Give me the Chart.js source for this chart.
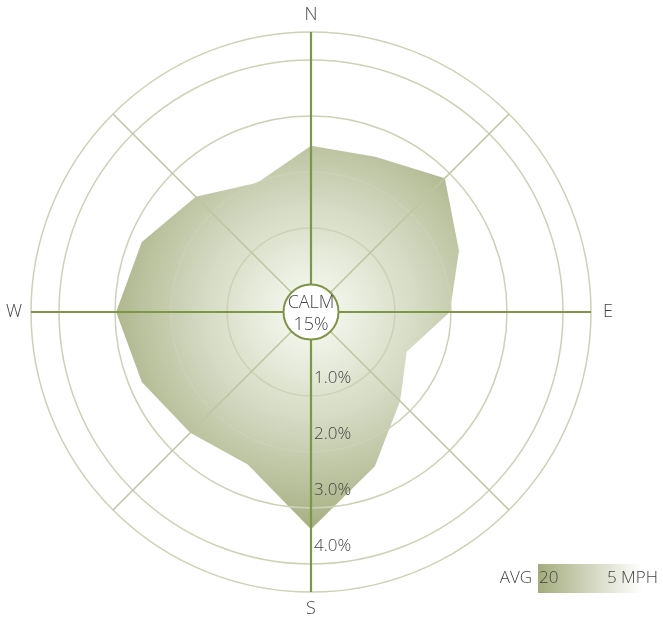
<!DOCTYPE html>
<html>
<head>
<meta charset="utf-8">
<title>Wind rose</title>
<script src="https://cdn.jsdelivr.net/npm/chart.js@4/dist/chart.umd.min.js"></script>
<style>
  html, body { margin: 0; padding: 0; background: #ffffff; }
  #wrap { width: 663px; height: 619px; position: relative; }
</style>
</head>
<body>
<div id="wrap"><canvas id="rose"></canvas></div>
<script>
// Sixteen compass directions, clockwise from north
const directions = ['N', 'NNE', 'NE', 'ENE', 'E', 'ESE', 'SE', 'SSE',
                    'S', 'SSW', 'SW', 'WSW', 'W', 'WNW', 'NW', 'NNW'];
// Share of observations from each direction (%)
const frequencies = [2.47, 2.50, 2.88, 2.36, 1.98, 1.35, 1.75, 2.48,
                     3.38, 2.45, 2.55, 2.77, 2.98, 2.77, 2.41, 2.00];
// Rings and their labels
const ringValues = [1, 2, 3, 4];
const ringLabels = ['1.0%', '2.0%', '3.0%', '4.0%'];
const outerRing = 4.5;
const innerOffset = -0.5;   // leaves room for the calm disc in the middle
// Calm share shown in the centre
const calmLabel = 'CALM';
const calmValue = '15%';
// Speed key
const keyPrefix = 'AVG';
const keyHigh = '20';
const keyLow = '5 MPH';

const FONT = "'Open Sans', 'DejaVu Sans', sans-serif";
const TEXT = '#454545';
const AXIS = '#7f9548';
const DIAG = '#bfc5a2';
const RING = '#cdd1b7';
const OLIVE = '#a3ac7d';

function roseFill(context) {
  const chart = context.chart;
  const s = chart.scales.r;
  if (!chart.chartArea || !s) return OLIVE;
  const r = s.getDistanceFromCenterForValue(3.5);
  const g = chart.ctx.createRadialGradient(s.xCenter, s.yCenter, 0, s.xCenter, s.yCenter, r);
  g.addColorStop(0, '#f8faf4');
  g.addColorStop(0.15, '#eef2e6');
  g.addColorStop(0.5, '#d3d9c1');
  g.addColorStop(1, OLIVE);
  return g;
}

const overlay = {
  id: 'roseOverlay',
  afterDraw(chart) {
    const ctx = chart.ctx;
    const s = chart.scales.r;
    const cx = s.xCenter, cy = s.yCenter;
    ctx.save();

    // compass letters
    ctx.fillStyle = TEXT;
    ctx.font = '300 18px ' + FONT;
    ctx.textAlign = 'center';
    ctx.textBaseline = 'middle';
    directions.forEach((d, i) => {
      if (d.length !== 1) return;
      const p = s.getPointPosition(i, s.drawingArea + 17);
      ctx.fillText(d, p.x, p.y);
    });

    // calm disc
    const calmR = s.getDistanceFromCenterForValue(0) - 0.5;
    ctx.beginPath();
    ctx.arc(cx, cy, calmR, 0, Math.PI * 2);
    ctx.fillStyle = '#ffffff';
    ctx.fill();
    ctx.lineWidth = 2;
    ctx.strokeStyle = AXIS;
    ctx.stroke();
    ctx.fillStyle = TEXT;
    ctx.font = '300 18px ' + FONT;
    ctx.fillText(calmLabel, cx, cy - 9);
    ctx.fillText(calmValue, cx, cy + 13);

    // ring labels along the south axis
    ctx.font = '300 17px ' + FONT;
    ctx.textAlign = 'left';
    ringValues.forEach((v, i) => {
      const d = s.getDistanceFromCenterForValue(v);
      ctx.fillText(ringLabels[i], cx + 3, cy + d - 18);
    });

    // speed key
    const kx = 538, ky = 564, kw = 104, kh = 29;
    const lg = ctx.createLinearGradient(kx, 0, kx + kw, 0);
    lg.addColorStop(0, OLIVE);
    lg.addColorStop(1, 'rgba(255,255,255,1)');
    ctx.fillStyle = lg;
    ctx.fillRect(kx, ky, kw, kh);
    ctx.fillStyle = TEXT;
    ctx.font = '300 17px ' + FONT;
    ctx.textBaseline = 'middle';
    ctx.textAlign = 'right';
    ctx.fillText(keyPrefix, kx - 6, ky + kh / 2);
    ctx.textAlign = 'left';
    ctx.fillText(keyHigh, kx + 1, ky + kh / 2);
    ctx.fillText(keyLow, 607, ky + kh / 2);
    ctx.restore();
  }
};

new Chart(document.getElementById('rose'), {
  type: 'radar',
  data: {
    labels: directions,
    datasets: [{
      data: frequencies,
      fill: 'start',
      backgroundColor: roseFill,
      borderWidth: 0,
      borderColor: 'rgba(0,0,0,0)',
      pointRadius: 0,
      pointHoverRadius: 0,
      tension: 0
    }]
  },
  options: {
    responsive: true,
    maintainAspectRatio: false,
    animation: false,
    events: [],
    layout: { padding: { left: 31, top: 32, right: 72, bottom: 27 } },
    plugins: { legend: { display: false }, tooltip: { enabled: false } },
    scales: {
      r: {
        min: innerOffset,
        max: outerRing,
        startAngle: 0,
        afterBuildTicks(scale) {
          scale.ticks = [innerOffset].concat(ringValues, [outerRing]).map(v => ({ value: v }));
        },
        ticks: { display: false },
        pointLabels: { display: false },
        grid: {
          z: 1,   // rings and spokes are painted above the filled rose
          circular: true,
          color: c => (c.tick && c.tick.value < 0.5) ? 'rgba(0,0,0,0)' : RING,
          lineWidth: 1.5
        },
        angleLines: {
          color: c => c.index % 4 === 0 ? AXIS : (c.index % 2 === 0 ? DIAG : 'rgba(0,0,0,0)'),
          lineWidth: c => c.index % 4 === 0 ? 2.2 : (c.index % 2 === 0 ? 1.6 : 0)
        }
      }
    }
  },
  plugins: [overlay]
});
</script>
</body>
</html>
